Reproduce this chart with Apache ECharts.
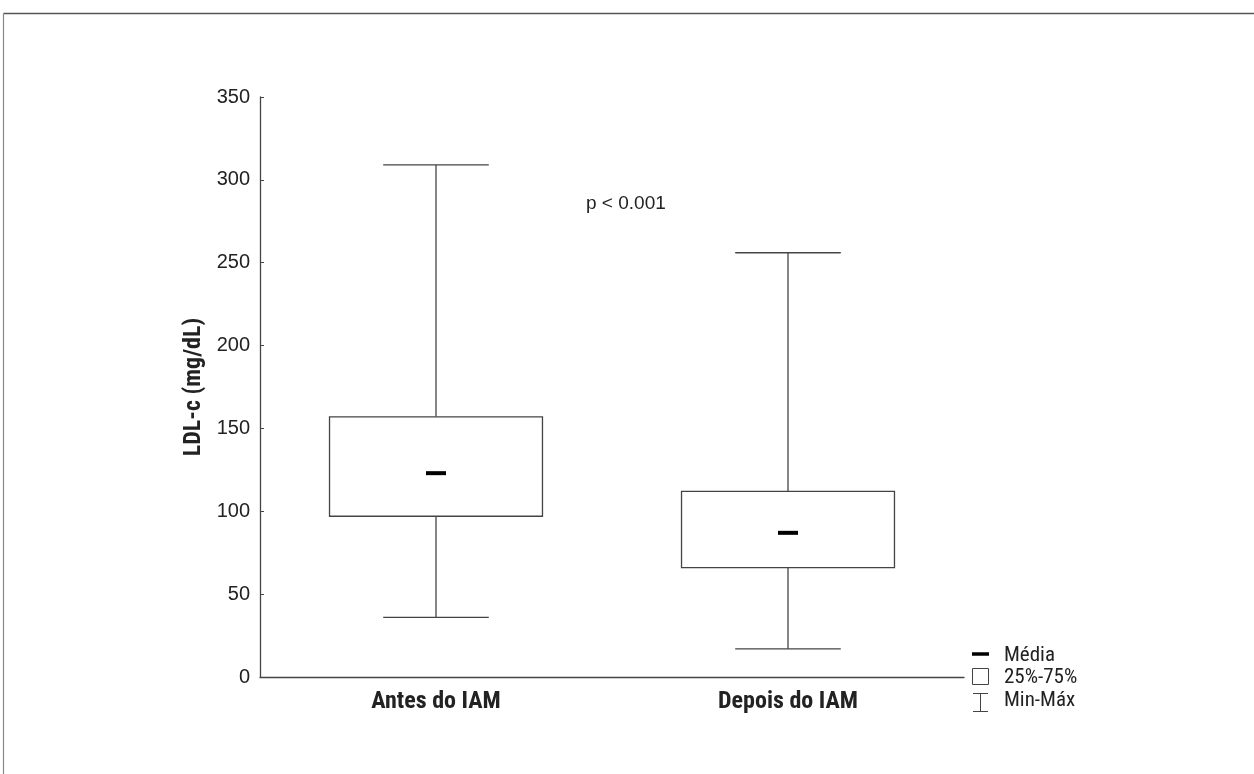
<!DOCTYPE html>
<html>
<head>
<meta charset="utf-8">
<script src="https://cdn.jsdelivr.net/npm/echarts@6/dist/echarts.min.js"></script>
<style>
  html,body{margin:0;padding:0;background:#fff;}
  #chart{width:1254px;height:774px;}
</style>
</head>
<body>
<div id="chart"></div>
<script>
    // dados
    var categories = ['Antes do IAM', 'Depois do IAM'];
    var minVals  = [36, 17];
    var q1Vals   = [97, 66];
    var meanVals = [123, 87];
    var q3Vals   = [157, 112];
    var maxVals  = [309, 256];
    var yTicks   = [0, 50, 100, 150, 200, 250, 300, 350];

    var lineColor = '#444';
    var narrow = '"Liberation Sans Narrow", "Roboto Condensed", Arial, sans-serif';
    var plain = 'Arial, "Liberation Sans", sans-serif';

    var seriesData = categories.map(function (c, i) {
        return [i, minVals[i], q1Vals[i], meanVals[i], q3Vals[i], maxVals[i]];
    });

    function renderBox(params, api) {
        var idx = api.value(0);
        var pMin = api.coord([idx, api.value(1)]);
        var pQ1 = api.coord([idx, api.value(2)]);
        var pMean = api.coord([idx, api.value(3)]);
        var pQ3 = api.coord([idx, api.value(4)]);
        var pMax = api.coord([idx, api.value(5)]);
        var band = api.size([1, 0])[0];
        var boxW = band * 0.605;
        var capW = band * 0.3;
        var x = pMin[0];
        var st = {stroke: lineColor, lineWidth: 1.3, fill: null};
        return {
            type: 'group',
            children: [
                {type: 'line', shape: {x1: x, y1: pMax[1], x2: x, y2: pQ3[1]}, style: st},
                {type: 'line', shape: {x1: x, y1: pQ1[1], x2: x, y2: pMin[1]}, style: st},
                {type: 'line', shape: {x1: x - capW / 2, y1: pMax[1], x2: x + capW / 2, y2: pMax[1]}, style: st},
                {type: 'line', shape: {x1: x - capW / 2, y1: pMin[1], x2: x + capW / 2, y2: pMin[1]}, style: st},
                {type: 'rect', shape: {x: x - boxW / 2, y: pQ3[1], width: boxW, height: pQ1[1] - pQ3[1]},
                    style: {stroke: lineColor, lineWidth: 1.3, fill: '#fff'}},
                {type: 'line', shape: {x1: x - 10, y1: pMean[1], x2: x + 10, y2: pMean[1]},
                    style: {stroke: '#000', lineWidth: 4}}
            ]
        };
    }

    var chart = echarts.init(document.getElementById('chart'));
    chart.setOption({
        animation: false,
        backgroundColor: '#fff',
        grid: {left: 260, right: 290, top: 97, bottom: 97},
        xAxis: {
            type: 'category',
            data: categories,
            axisLine: {lineStyle: {color: lineColor, width: 1.3}},
            axisTick: {inside: true, length: 4, alignWithLabel: true, lineStyle: {color: lineColor}},
            axisLabel: {color: '#222', fontSize: 24, fontWeight: 'bold', fontFamily: narrow, margin: 13}
        },
        yAxis: {
            type: 'value',
            min: yTicks[0],
            max: yTicks[yTicks.length - 1],
            interval: 50,
            splitLine: {show: false},
            axisLine: {show: true, lineStyle: {color: lineColor, width: 1.3}},
            axisTick: {show: true, inside: true, length: 4, lineStyle: {color: lineColor}},
            axisLabel: {color: '#222', fontSize: 20, fontFamily: plain, margin: 10},
            name: 'LDL-c (mg/dL)',
            nameLocation: 'middle',
            nameGap: 49,
            nameRotate: 90,
            nameTextStyle: {color: '#222', fontSize: 24, fontWeight: 'bold', fontFamily: narrow}
        },
        series: [{
            type: 'custom',
            renderItem: renderBox,
            encode: {x: 0, y: [1, 2, 3, 4, 5]},
            data: seriesData
        }],
        graphic: [
            // moldura
            {type: 'line', shape: {x1: 3.5, y1: 13.5, x2: 1254, y2: 13.5}, style: {stroke: '#555', lineWidth: 1.5}},
            {type: 'line', shape: {x1: 3.5, y1: 13.5, x2: 3.5, y2: 774}, style: {stroke: '#888', lineWidth: 1.2}},
            {type: 'text', left: 586, top: 194,
                style: {text: 'p < 0.001', fill: '#222', fontSize: 19, fontFamily: plain}},
            // legenda
            {type: 'line', shape: {x1: 972, y1: 654, x2: 989, y2: 654}, style: {stroke: '#000', lineWidth: 3.5}},
            {type: 'rect', shape: {x: 972.5, y: 668.5, width: 16, height: 16}, style: {stroke: lineColor, lineWidth: 1, fill: '#fff'}},
            {type: 'line', shape: {x1: 973, y1: 693.5, x2: 988, y2: 693.5}, style: {stroke: lineColor, lineWidth: 1}},
            {type: 'line', shape: {x1: 980.5, y1: 693.5, x2: 980.5, y2: 711.5}, style: {stroke: lineColor, lineWidth: 1}},
            {type: 'line', shape: {x1: 973, y1: 711.5, x2: 988, y2: 711.5}, style: {stroke: lineColor, lineWidth: 1}},
            {type: 'text', left: 1004, top: 645, style: {text: 'Média', fill: '#222', fontSize: 21, fontFamily: narrow}},
            {type: 'text', left: 1004, top: 667, style: {text: '25%-75%', fill: '#222', fontSize: 21, fontFamily: narrow}},
            {type: 'text', left: 1004, top: 690, style: {text: 'Min-Máx', fill: '#222', fontSize: 21, fontFamily: narrow}}
        ]
    });
</script>
</body>
</html>
